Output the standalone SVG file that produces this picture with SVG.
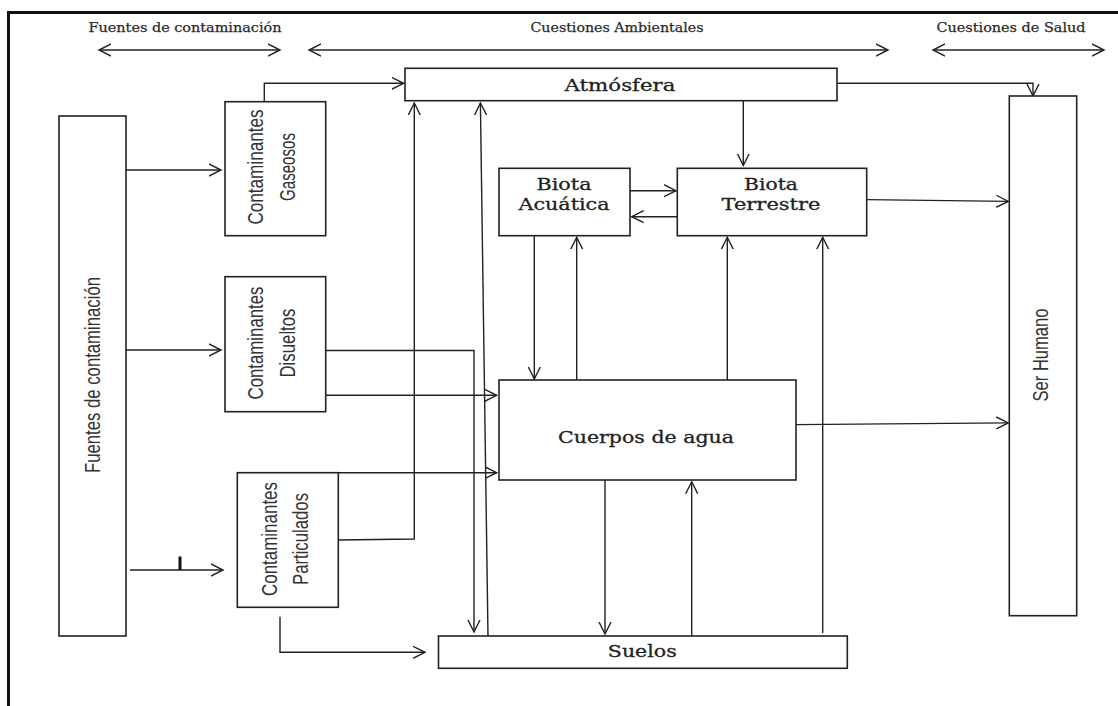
<svg xmlns="http://www.w3.org/2000/svg" width="1118" height="706" viewBox="0 0 1118 706">
<style>
.box{fill:#fff;stroke:#222;stroke-width:1.6}
.ln{fill:none;stroke:#222;stroke-width:1.4}
.arr{marker-end:url(#ah)}
.dbl{marker-start:url(#ah);marker-end:url(#ah)}
.hdr{font-family:"DejaVu Serif","Liberation Serif",serif;font-size:12.5px;fill:#2a2a2a;stroke:#2a2a2a;stroke-width:0.25;text-anchor:middle}
.lbl{font-family:"DejaVu Serif","Liberation Serif",serif;font-size:17px;fill:#222;stroke:#222;stroke-width:0.3;text-anchor:middle}
.vt{font-family:"Liberation Sans Narrow","Liberation Sans",sans-serif;font-size:22px;fill:#333;text-anchor:middle}
</style>
<defs>
<marker id="ah" markerUnits="userSpaceOnUse" markerWidth="16" markerHeight="16" refX="12" refY="7" orient="auto-start-reverse" viewBox="0 0 16 16">
<path d="M0,1 L12,7 L0,13" fill="none" stroke="#222" stroke-width="1.4"/>
</marker>
</defs>
<rect width="1118" height="706" fill="#fff"/>
<path d="M8.5,712 V12.5 H1125" fill="none" stroke="#111" stroke-width="3"/>

<g id="headers">
<text class="hdr" x="185" y="32" textLength="193" lengthAdjust="spacingAndGlyphs">Fuentes de contaminación</text>
<text class="hdr" x="617" y="32" textLength="173" lengthAdjust="spacingAndGlyphs">Cuestiones Ambientales</text>
<text class="hdr" x="1011" y="32" textLength="149" lengthAdjust="spacingAndGlyphs">Cuestiones de Salud</text>
</g>

<g id="connectors">
<line class="ln dbl" x1="99" y1="50" x2="280" y2="50"/>
<line class="ln dbl" x1="309" y1="50" x2="888" y2="50"/>
<line class="ln dbl" x1="933" y1="50" x2="1104" y2="50"/>

<line class="ln arr" x1="126" y1="170" x2="221" y2="170"/>
<line class="ln arr" x1="126" y1="350" x2="221" y2="350"/>
<line class="ln arr" x1="130" y1="570" x2="223" y2="570"/>
<line x1="180" y1="556.5" x2="180" y2="570" stroke="#111" stroke-width="3"/>

<path class="ln arr" d="M264.3,101.7 V83.3 H403.6"/>
<path class="ln arr" d="M837,83.3 H1033 V96"/>
<path class="ln arr" d="M338.3,540 L414.3,539 V103"/>
<path class="ln arr" d="M488,636 L480.4,103"/>
<path class="ln arr" d="M325.7,350.5 H474 V632"/>
<path class="ln arr" d="M325.7,395.3 H496.7"/>
<path class="ln arr" d="M338.3,472.7 H496.7"/>
<path class="ln arr" d="M280,616.7 V652.3 H425"/>

<line class="ln arr" x1="743.3" y1="100.7" x2="743.3" y2="165.5"/>
<line class="ln arr" x1="630" y1="190.7" x2="676" y2="190.7"/>
<line class="ln arr" x1="677.3" y1="216.7" x2="631.7" y2="216.7"/>
<line class="ln arr" x1="534.3" y1="235.7" x2="534.3" y2="379"/>
<line class="ln arr" x1="576.7" y1="380" x2="576.7" y2="237.3"/>
<line class="ln arr" x1="727.3" y1="380" x2="727.3" y2="237.3"/>
<line class="ln arr" x1="822.7" y1="633" x2="822.7" y2="237.3"/>
<line class="ln arr" x1="605" y1="480" x2="605" y2="634"/>
<line class="ln arr" x1="691.7" y1="638" x2="691.7" y2="481.7"/>
<line class="ln arr" x1="866.7" y1="199.6" x2="1008.3" y2="201.4"/>
<line class="ln arr" x1="796" y1="424.6" x2="1008.3" y2="422.9"/>
</g>

<g id="fuentes">
<rect class="box" x="59" y="116" width="67" height="520"/>
<text class="vt" transform="translate(100,375) rotate(-90)" x="0" y="0" textLength="196" lengthAdjust="spacingAndGlyphs">Fuentes de contaminación</text>
</g>

<g id="gaseosos">
<rect class="box" x="225" y="101.7" width="100.7" height="134"/>
<g transform="translate(263,167) rotate(-90)">
<text class="vt" x="0" y="0" textLength="115" lengthAdjust="spacingAndGlyphs">Contaminantes</text>
<text class="vt" x="0" y="32" textLength="68" lengthAdjust="spacingAndGlyphs">Gaseosos</text>
</g>
</g>

<g id="disueltos">
<rect class="box" x="225" y="276.7" width="100.7" height="135"/>
<g transform="translate(263,343) rotate(-90)">
<text class="vt" x="0" y="0" textLength="113" lengthAdjust="spacingAndGlyphs">Contaminantes</text>
<text class="vt" x="0" y="32" textLength="69" lengthAdjust="spacingAndGlyphs">Disueltos</text>
</g>
</g>

<g id="particulados">
<rect class="box" x="237.3" y="472.7" width="101" height="134.6"/>
<g transform="translate(277,539) rotate(-90)">
<text class="vt" x="0" y="0" textLength="114" lengthAdjust="spacingAndGlyphs">Contaminantes</text>
<text class="vt" x="0" y="31" textLength="92" lengthAdjust="spacingAndGlyphs">Particulados</text>
</g>
</g>

<g id="atmosfera">
<rect class="box" x="405" y="68.3" width="432" height="32.4"/>
<text class="lbl" x="620" y="90.5" textLength="111" lengthAdjust="spacingAndGlyphs">Atmósfera</text>
</g>

<g id="biota-acuatica">
<rect class="box" x="499" y="168.3" width="131" height="67.4"/>
<text class="lbl" x="564" y="190" textLength="55" lengthAdjust="spacingAndGlyphs">Biota</text>
<text class="lbl" x="564" y="210" textLength="91" lengthAdjust="spacingAndGlyphs">Acuática</text>
</g>

<g id="biota-terrestre">
<rect class="box" x="677.3" y="168.3" width="189.4" height="67.4"/>
<text class="lbl" x="771" y="190" textLength="54" lengthAdjust="spacingAndGlyphs">Biota</text>
<text class="lbl" x="771" y="210" textLength="99" lengthAdjust="spacingAndGlyphs">Terrestre</text>
</g>

<g id="cuerpos-de-agua">
<rect class="box" x="499" y="380" width="297" height="100"/>
<text class="lbl" x="646" y="443.3" textLength="176" lengthAdjust="spacingAndGlyphs">Cuerpos de agua</text>
</g>

<g id="suelos">
<rect class="box" x="438.5" y="636" width="408.8" height="32.3"/>
<text class="lbl" x="642.3" y="657.3" textLength="69" lengthAdjust="spacingAndGlyphs">Suelos</text>
</g>

<g id="ser-humano">
<rect class="box" x="1009.3" y="96" width="67.4" height="519.7"/>
<text class="vt" transform="translate(1048,355) rotate(-90)" x="0" y="0" textLength="93" lengthAdjust="spacingAndGlyphs">Ser Humano</text>
</g>
</svg>
